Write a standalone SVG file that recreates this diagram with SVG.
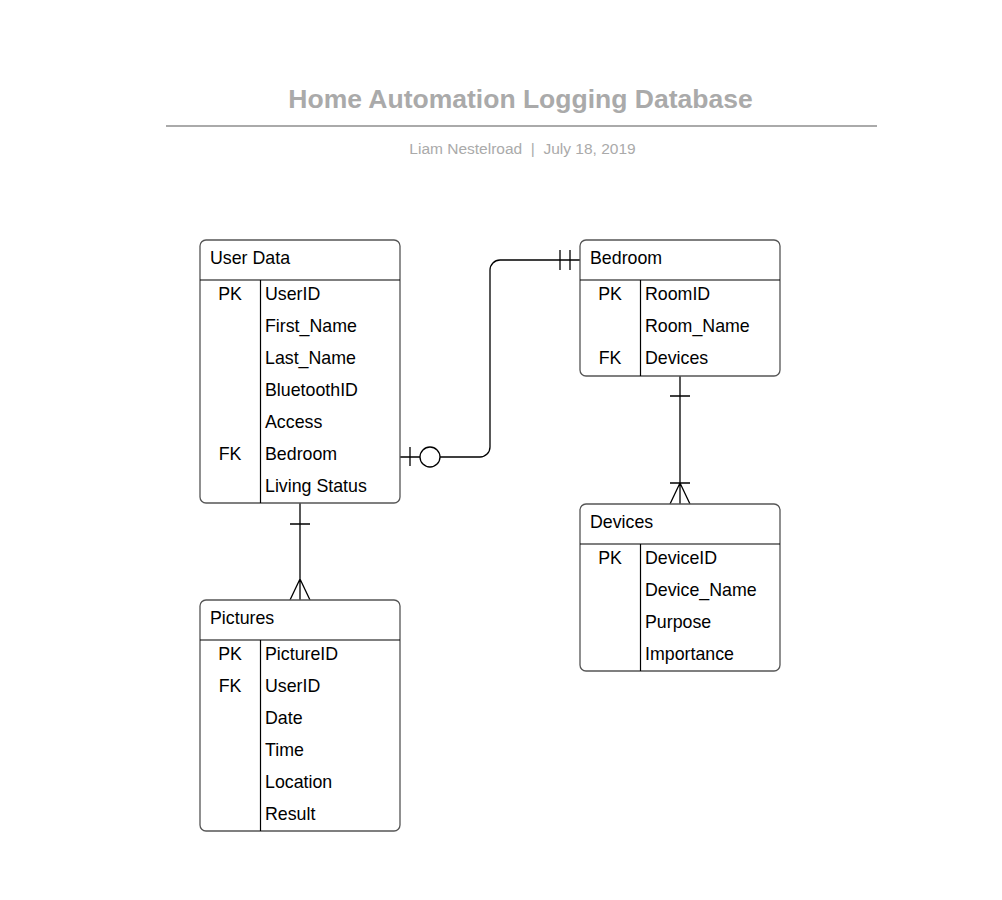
<svg xmlns="http://www.w3.org/2000/svg" width="1002" height="900" viewBox="0 0 1002 900">
<style>
.box{fill:#fff;stroke:#555;stroke-width:1.3}
.ln{stroke:#000;stroke-width:1.2;fill:none}
.t{font-family:"Liberation Sans",Arial,sans-serif;font-size:17.8px;fill:#000}
.k{text-anchor:middle}
.title{font-family:"Liberation Sans",Arial,sans-serif;font-size:26.5px;font-weight:bold;fill:#aaa;text-anchor:middle}
.sub{font-family:"Liberation Sans",Arial,sans-serif;font-size:15.5px;fill:#aaa;text-anchor:middle}
.c{stroke:#000;stroke-width:1.3;fill:none}
</style>
<rect width="1002" height="900" fill="#fff"/>
<g id="header">
<text class="title" x="520.5" y="108">Home Automation Logging Database</text>
<line x1="166" y1="126" x2="877" y2="126" stroke="#aaa" stroke-width="2"/>
<text class="sub" x="522.5" y="154" xml:space="preserve">Liam Nestelroad  |  July 18, 2019</text>
</g>
<g id="connectors">
<path class="c" d="M400,457 H420 M440,457 H480 A10,10 0 0 0 490,447 V270 A10,10 0 0 1 500,260 H580"/>
<circle class="c" cx="430" cy="457" r="10" fill="#fff"/>
<line class="c" x1="410" y1="447" x2="410" y2="466"/>
<line class="c" x1="560" y1="250" x2="560" y2="270"/>
<line class="c" x1="570" y1="250" x2="570" y2="270"/>
<path class="c" d="M300,503 V600 M290,524 H310 M290,600 L300,579 L310,600"/>
<path class="c" d="M680,376 V504 M670,396 H690 M670,483 H690 M670,504 L680,483 L690,504"/>
</g>
<g id="user-data">
<rect class="box" x="200" y="240" width="200" height="263" rx="6"/>
<line class="ln" x1="200" y1="280" x2="400" y2="280"/>
<line class="ln" x1="260.5" y1="280" x2="260.5" y2="503"/>
<text class="t" x="210" y="264">User Data</text>
<text class="t k" x="230" y="300">PK</text>
<text class="t" x="265" y="300">UserID</text>
<text class="t" x="265" y="332">First_Name</text>
<text class="t" x="265" y="364">Last_Name</text>
<text class="t" x="265" y="396">BluetoothID</text>
<text class="t" x="265" y="428">Access</text>
<text class="t k" x="230" y="460">FK</text>
<text class="t" x="265" y="460">Bedroom</text>
<text class="t" x="265" y="492">Living Status</text>
</g>
<g id="bedroom">
<rect class="box" x="580" y="240" width="200" height="136" rx="6"/>
<line class="ln" x1="580" y1="280" x2="780" y2="280"/>
<line class="ln" x1="640.5" y1="280" x2="640.5" y2="376"/>
<text class="t" x="590" y="264">Bedroom</text>
<text class="t k" x="610" y="300">PK</text>
<text class="t" x="645" y="300">RoomID</text>
<text class="t" x="645" y="332">Room_Name</text>
<text class="t k" x="610" y="364">FK</text>
<text class="t" x="645" y="364">Devices</text>
</g>
<g id="devices">
<rect class="box" x="580" y="504" width="200" height="167" rx="6"/>
<line class="ln" x1="580" y1="544" x2="780" y2="544"/>
<line class="ln" x1="640.5" y1="544" x2="640.5" y2="671"/>
<text class="t" x="590" y="528">Devices</text>
<text class="t k" x="610" y="564">PK</text>
<text class="t" x="645" y="564">DeviceID</text>
<text class="t" x="645" y="596">Device_Name</text>
<text class="t" x="645" y="628">Purpose</text>
<text class="t" x="645" y="660">Importance</text>
</g>
<g id="pictures">
<rect class="box" x="200" y="600" width="200" height="231" rx="6"/>
<line class="ln" x1="200" y1="640" x2="400" y2="640"/>
<line class="ln" x1="260.5" y1="640" x2="260.5" y2="831"/>
<text class="t" x="210" y="624">Pictures</text>
<text class="t k" x="230" y="660">PK</text>
<text class="t" x="265" y="660">PictureID</text>
<text class="t k" x="230" y="692">FK</text>
<text class="t" x="265" y="692">UserID</text>
<text class="t" x="265" y="724">Date</text>
<text class="t" x="265" y="756">Time</text>
<text class="t" x="265" y="788">Location</text>
<text class="t" x="265" y="820">Result</text>
</g>
</svg>
